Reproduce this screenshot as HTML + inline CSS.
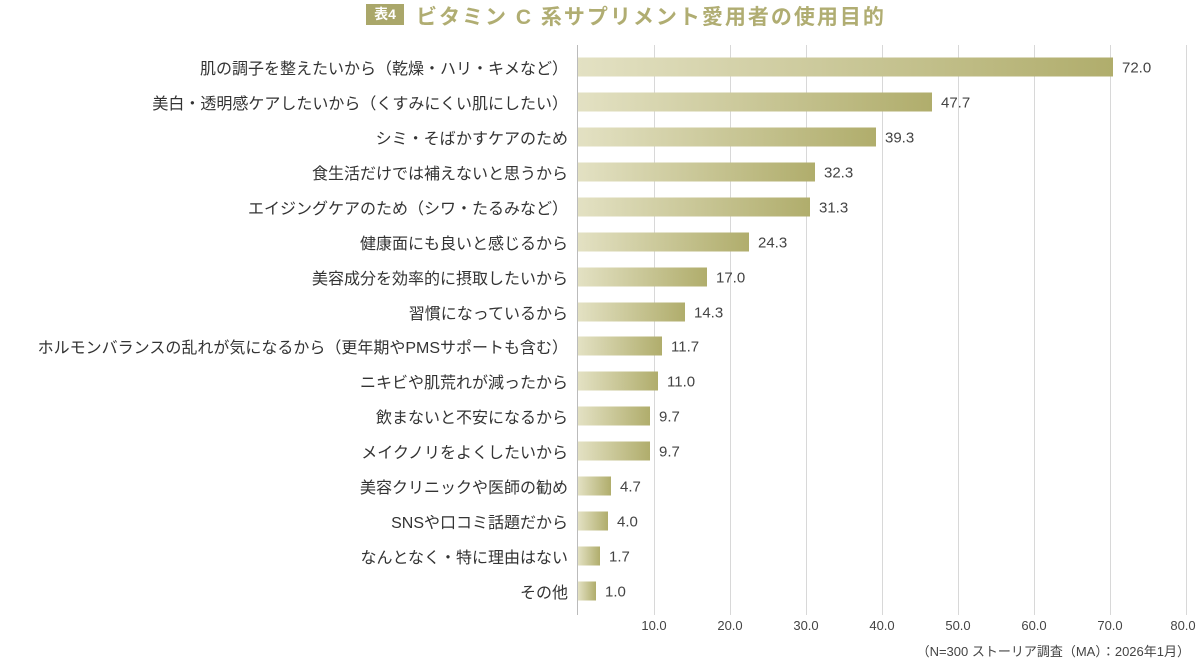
<!DOCTYPE html>
<html><head><meta charset="utf-8"><style>
body{margin:0;width:1198px;height:660px;background:#fff;font-family:"Liberation Sans","Noto Sans CJK JP",sans-serif;position:relative;overflow:hidden;color:#333}
.a{position:absolute;white-space:nowrap}
.lbl{right:630px;font-size:16px;transform:translateY(-50%)}
.bar{left:578px;height:19px;background:linear-gradient(to right,#e3e1c3,#b0ad6c);transform:translateY(-50%)}
.val{font-size:15px;transform:translateY(-45%);color:#444}
.g{top:45px;height:570px;width:1px;background:#d8d8d8}
.t{top:618px;font-size:13px;transform:translateX(-50%);color:#444}
</style></head><body>
<div class="a" style="left:366px;top:4px;width:38px;height:21px;background:#aaa76a;color:#fff;font-weight:bold;font-size:14px;line-height:21px;text-align:center">表4</div>
<div class="a" style="left:416px;top:1px;font-size:21px;font-weight:bold;color:#b0ad72;letter-spacing:2px">ビタミン C 系サプリメント愛用者の使用目的</div>
<div class="a g" style="left:654px"></div><div class="a g" style="left:730px"></div><div class="a g" style="left:806px"></div><div class="a g" style="left:882px"></div><div class="a g" style="left:958px"></div><div class="a g" style="left:1034px"></div><div class="a g" style="left:1110px"></div><div class="a g" style="left:1186px"></div>
<div class="a" style="left:577px;top:45px;height:570px;width:1px;background:#bbb"></div>
<div class="a t" style="left:654px">10.0</div><div class="a t" style="left:730px">20.0</div><div class="a t" style="left:806px">30.0</div><div class="a t" style="left:882px">40.0</div><div class="a t" style="left:958px">50.0</div><div class="a t" style="left:1034px">60.0</div><div class="a t" style="left:1110px">70.0</div><div class="a t" style="left:1183px">80.0</div>
<div class="a" style="right:8px;top:641px;font-size:13px;color:#444">（N=300 ストーリア調査（MA）：2026年1月）</div>
<div id="rows"></div>
<script>
var d=[["肌の調子を整えたいから（乾燥・ハリ・キメなど）",72.0,1113],["美白・透明感ケアしたいから（くすみにくい肌にしたい）",47.7,932],["シミ・そばかすケアのため",39.3,876],["食生活だけでは補えないと思うから",32.3,815],["エイジングケアのため（シワ・たるみなど）",31.3,810],["健康面にも良いと感じるから",24.3,749],["美容成分を効率的に摂取したいから",17.0,707],["習慣になっているから",14.3,685],["ホルモンバランスの乱れが気になるから（更年期やPMSサポートも含む）",11.7,662],["ニキビや肌荒れが減ったから",11.0,658],["飲まないと不安になるから",9.7,650],["メイクノリをよくしたいから",9.7,650],["美容クリニックや医師の勧め",4.7,611],["SNSや口コミ話題だから",4.0,608],["なんとなく・特に理由はない",1.7,600],["その他",1.0,596]];
var h="";d.forEach(function(r,i){var y=67+i*34.93,w=r[2]-578;
h+='<div class="a lbl" style="top:'+y+'px">'+r[0]+'</div><div class="a bar" style="top:'+y+'px;width:'+w+'px"></div><div class="a val" style="top:'+y+'px;left:'+(578+w+9)+'px">'+r[1].toFixed(1)+'</div>';});
document.getElementById("rows").innerHTML=h;
</script>
</body></html>
